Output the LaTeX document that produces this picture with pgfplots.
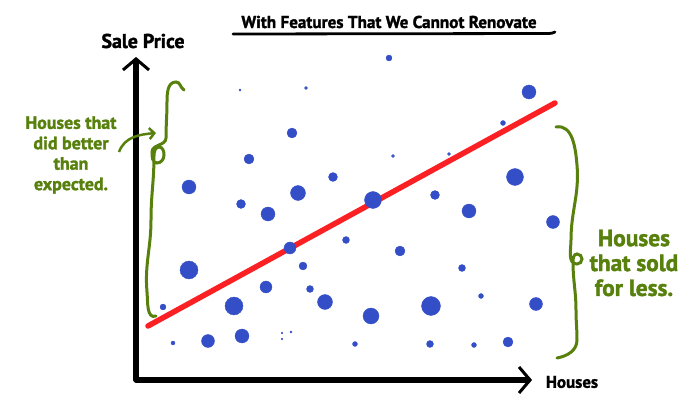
\documentclass[border=0pt]{standalone}
\usepackage{fontspec}
\setmainfont{PT Sans}[BoldFeatures={FakeBold=1.6}]
\usepackage{pgfplots}
\usepackage{pgfplotstable}
\pgfplotsset{compat=1.18}
\usetikzlibrary{arrows.meta}
\definecolor{dotblue}{RGB}{52,78,199}
\definecolor{linered}{RGB}{250,32,36}
\definecolor{noteGreen}{RGB}{88,128,12}

% houses: x, y (sale price), r = dot radius
\pgfplotstableread{
x y r
240 330 1.0
306 332 1.5
389 362 3.0
292 287 5.0
249 261 5.0
333 243 4.5
189 233 7.0
298 227 7.5
373 220 8.5
529 328 7.0
503 297 2.5
393 264 1.5
449 266 1.5
515 243 8.5
435 225 4.5
241 216 4.5
268 206 7.0
290 172 6.0
346 180 3.5
303 154 4.0
189 150 9.0
266 133 6.0
310 131 3.5
163 113 3.0
234 114 9.0
325 118 7.5
371 104 8.0
173 77 2.0
208 79 6.5
242 84 7.0
282 87 0.8
282 81 0.8
291 88 1.0
355 76 2.5
469 209 7.0
553 198 6.5
400 169 5.0
462 152 3.5
481 124 2.5
431 114 9.5
536 116 6.5
430 76 3.5
474 75 2.5
508 78 5.0
}\housedata

\begin{document}
\begin{tikzpicture}
\path[use as bounding box] (0,0) rectangle (700bp,420bp);
\begin{axis}[
  at={(136bp,40bp)}, anchor=south west,
  x=1bp, y=1bp,
  xmin=136, xmax=532, ymin=40, ymax=363,
  enlargelimits=false,
  axis x line=bottom, axis y line=left,
  axis line style={black, line width=5bp, line cap=round,
    -{Straight Barb[length=11bp,width=26bp,line width=3bp]}},
  xtick=\empty, ytick=\empty,
  clip=false,
]
\addplot[scatter, only marks, mark=*,
  scatter/use mapped color={draw=dotblue,fill=dotblue},
  visualization depends on={\thisrow{r} \as \rr},
  scatter/@pre marker code/.append style={/tikz/mark size=\rr}]
  table[x=x, y=y] {\housedata};

\addplot[linered, line width=5.5bp, line cap=round] coordinates {(148,94) (555,317)};

% labels
\node[font=\bfseries\fontsize{17.2}{19}\selectfont] at (389,398) {With Features That We Cannot Renovate};
\draw[line width=2.8bp, line cap=round] (233,386) -- (548,386.5) to[out=0,in=-150] (555,388);
\node[font=\bfseries\fontsize{20}{22}\selectfont] at (143,379) {Sale Price};
\node[font=\bfseries\fontsize{17}{19}\selectfont] at (572,38) {Houses};

% left brace
\draw[noteGreen, line width=3bp, line cap=round]
  (184,330) to[out=150,in=0] (176,338) to[out=180,in=90] (167,318)
  to[out=-90,in=90] (166,282) to[out=-90,in=90] (152,268)
  to[out=-90,in=180] (157,257) to[out=0,in=-90] (164,265)
  to[out=90,in=0] (159,273) to[out=180,in=90] (154,264)
  to[out=-90,in=90] (151,200) to[out=-90,in=95] (147,128)
  to[out=-85,in=200] (156,104);
\draw[noteGreen, line width=2.5bp, -{Straight Barb[length=5bp,width=11bp]}]
  (119,268) to[out=70,in=185] (156,287);
\node[noteGreen, align=center, font=\bfseries\fontsize{18}{20.5}\selectfont] at (71,265)
  {Houses that\\did better\\than\\expected.};

% right brace
\draw[noteGreen, line width=3bp, line cap=round]
  (556,293) to[out=10,in=95] (577,255) to[out=-85,in=90] (571,180)
  to[out=-90,in=180] (577,156) to[out=0,in=-90] (582,161)
  to[out=90,in=0] (577,166) to[out=180,in=90] (573,158)
  to[out=-90,in=90] (576,110) to[out=-90,in=90] (577,80)
  to[out=-90,in=10] (557,62);
\node[noteGreen, align=center, font=\bfseries\fontsize{23.5}{25}\selectfont] at (634,157)
  {Houses\\that sold\\for less.};
\end{axis}
\end{tikzpicture}
\end{document}
